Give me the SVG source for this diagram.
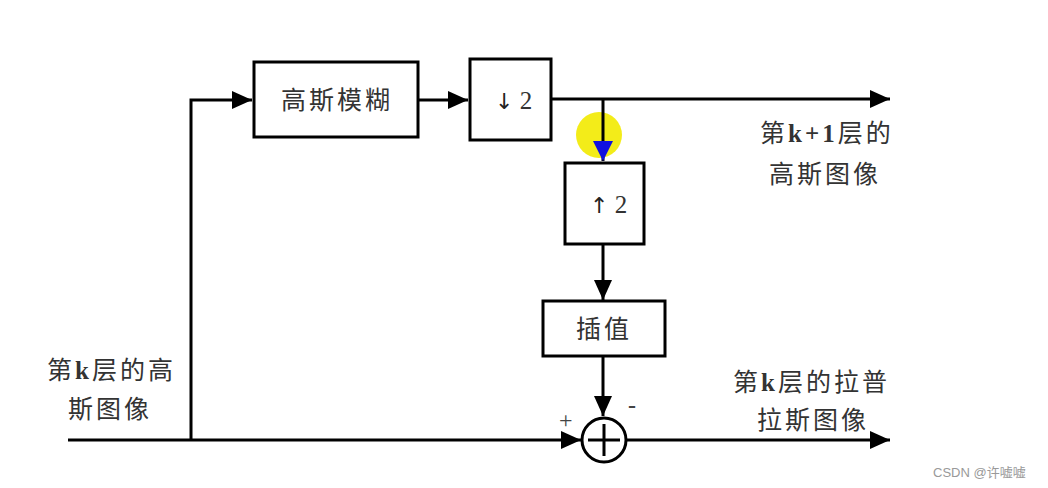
<svg xmlns="http://www.w3.org/2000/svg" width="1048" height="488" viewBox="0 0 1048 488">
<style>
.box{fill:#fff;stroke:#000;stroke-width:3}
.ln{fill:none;stroke:#000;stroke-width:3}
.t{font-family:"Liberation Serif","Noto Sans CJK SC",serif;font-size:25px;fill:#333;letter-spacing:3px}
.b{font-weight:bold}
.ar{font-family:"DejaVu Sans",sans-serif;fill:#222}
.sg{font-family:"Liberation Serif",serif;fill:#444}
</style>
<defs>
<marker id="ah" markerUnits="userSpaceOnUse" markerWidth="22" markerHeight="18" refX="20" refY="9" orient="auto">
<path d="M0,0 L20,9 L0,18 z" fill="#000"/>
</marker>
<marker id="ahb" markerUnits="userSpaceOnUse" markerWidth="22" markerHeight="20" refX="20" refY="10" orient="auto">
<path d="M0,0 L20,10 L0,20 z" fill="#1010e0"/>
</marker>
</defs>
<rect width="1048" height="488" fill="#fff"/>
<circle cx="599" cy="135" r="23" fill="#f2ea00" opacity="0.9"/>
<g id="connectors">
<path class="ln" d="M191,440 V100 H252" marker-end="url(#ah)"/>
<path class="ln" d="M418,100 H468" marker-end="url(#ah)"/>
<path class="ln" d="M551,99 H890" marker-end="url(#ah)"/>
<path class="ln" d="M603,99 V161" marker-end="url(#ahb)"/>
<path class="ln" d="M603,244 V300" marker-end="url(#ah)"/>
<path class="ln" d="M603,356 V416" marker-end="url(#ah)"/>
<path class="ln" d="M68,440 H581" marker-end="url(#ah)"/>
<path class="ln" d="M627,440 H890" marker-end="url(#ah)"/>
</g>
<g id="blur"><rect class="box" x="254" y="62" width="164" height="75"/><text class="t" x="281" y="109">高斯模糊</text></g>
<g id="down"><rect class="box" x="470" y="59" width="81" height="81"/><text class="t" x="495" y="109" style="letter-spacing:0"><tspan class="ar" font-size="22">↓</tspan> 2</text></g>
<g id="up"><rect class="box" x="565" y="163" width="79" height="81"/><text class="t" x="590" y="213" style="letter-spacing:0"><tspan class="ar" font-size="22">↑</tspan> 2</text></g>
<g id="interp"><rect class="box" x="543" y="301" width="122" height="55"/><text class="t" x="576" y="338">插值</text></g>
<g id="sum"><circle cx="604" cy="440" r="22" fill="#fff" stroke="#000" stroke-width="3"/><path class="ln" d="M604,424 V456 M588,440 H620"/>
<text class="sg" x="559" y="428" font-size="24">+</text><text class="sg" x="628" y="413" font-size="24" font-weight="bold">-</text></g>
<g id="lbl-k1"><text class="t" x="760" y="142">第<tspan class="b">k+1</tspan>层的</text><text class="t" x="769" y="183">高斯图像</text></g>
<g id="lbl-k"><text class="t" x="47" y="379">第<tspan class="b">k</tspan>层的高</text><text class="t" x="68" y="418">斯图像</text></g>
<g id="lbl-lap"><text class="t" x="733" y="391">第<tspan class="b">k</tspan>层的拉普</text><text class="t" x="757" y="429">拉斯图像</text></g>
<text x="933" y="477" style="font-family:'Liberation Sans','Noto Sans CJK SC',sans-serif;font-size:13px;fill:#999">CSDN @许嘘嘘</text>
</svg>
